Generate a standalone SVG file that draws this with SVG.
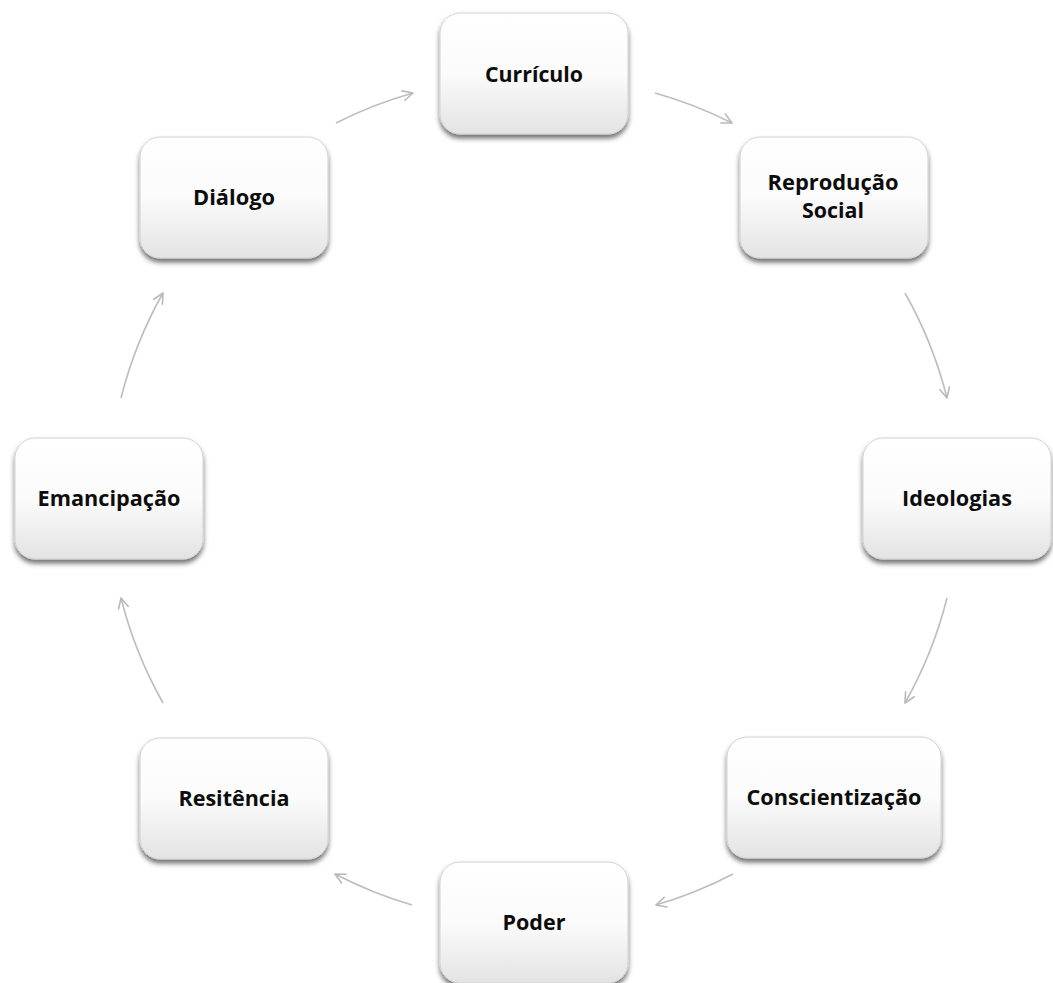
<svg xmlns="http://www.w3.org/2000/svg" width="1053" height="983" viewBox="0 0 1053 983">
  <defs>
    <linearGradient id="boxFill" x1="0" y1="0" x2="0" y2="1">
      <stop offset="0" stop-color="#ffffff"/>
      <stop offset="0.5" stop-color="#fbfbfb"/>
      <stop offset="1" stop-color="#e3e3e3"/>
    </linearGradient>
    <filter id="shadow" x="-10%" y="-10%" width="120%" height="130%">
      <feDropShadow dx="0" dy="4" stdDeviation="2.5" flood-color="#000" flood-opacity="0.55"/>
    </filter>
    <marker id="chevron" viewBox="0 0 12 12" refX="11" refY="6" markerWidth="12" markerHeight="12" markerUnits="userSpaceOnUse" orient="auto">
      <path d="M1,1 L11,6 L1,11" fill="none" stroke="#b9b9b9" stroke-width="1.6" stroke-linecap="round" stroke-linejoin="round"/>
    </marker>
  </defs>
  <style>
    .box { fill: url(#boxFill); stroke: #d2d2d2; stroke-width: 1; filter: url(#shadow); }
    .label { font-family: "Open Sans", "Liberation Sans", sans-serif; font-weight: bold; font-size: 21.5px; fill: #0d0d0d; text-anchor: middle; }
    .link { fill: none; stroke: #bdbdbd; stroke-width: 1.6; marker-end: url(#chevron); }
  </style>

  <rect width="1053" height="983" fill="#ffffff"/>

  <!-- connectors: arcs on one circle, centre (533,498), radius 424 -->
  <g id="connectors">
    <path class="link" d="M336,123 A424,424 0 0 1 413,93"/>
    <path class="link" d="M655,93 A424,424 0 0 1 732,123"/>
    <path class="link" d="M905,293 A424,424 0 0 1 947,398"/>
    <path class="link" d="M947,598 A424,424 0 0 1 905,703"/>
    <path class="link" d="M733,874 A424,424 0 0 1 656,905"/>
    <path class="link" d="M412,905 A424,424 0 0 1 335,874"/>
    <path class="link" d="M163,703 A424,424 0 0 1 121,598"/>
    <path class="link" d="M121,398 A424,424 0 0 1 163,293"/>
  </g>

  <g id="node-curriculo">
    <rect class="box" x="440" y="13" width="188" height="121" rx="20"/>
    <text class="label" x="534" y="82" textLength="98" lengthAdjust="spacingAndGlyphs">Currículo</text>
  </g>

  <g id="node-reproducao">
    <rect class="box" x="740" y="137" width="188" height="121" rx="20"/>
    <text class="label" x="833" y="190" textLength="131" lengthAdjust="spacingAndGlyphs">Reprodução</text>
    <text class="label" x="833" y="218" textLength="62" lengthAdjust="spacingAndGlyphs">Social</text>
  </g>

  <g id="node-ideologias">
    <rect class="box" x="863" y="438" width="188" height="121" rx="20"/>
    <text class="label" x="957" y="506" textLength="110" lengthAdjust="spacingAndGlyphs">Ideologias</text>
  </g>

  <g id="node-conscientizacao">
    <rect class="box" x="727" y="737" width="214" height="121" rx="20"/>
    <text class="label" x="834" y="805" textLength="175" lengthAdjust="spacingAndGlyphs">Conscientização</text>
  </g>

  <g id="node-poder">
    <rect class="box" x="440" y="862" width="188" height="121" rx="20"/>
    <text class="label" x="534" y="930" textLength="63" lengthAdjust="spacingAndGlyphs">Poder</text>
  </g>

  <g id="node-resistencia">
    <rect class="box" x="140" y="738" width="188" height="121" rx="20"/>
    <text class="label" x="234" y="806" textLength="111" lengthAdjust="spacingAndGlyphs">Resitência</text>
  </g>

  <g id="node-emancipacao">
    <rect class="box" x="15" y="438" width="188" height="121" rx="20"/>
    <text class="label" x="109" y="506" textLength="143" lengthAdjust="spacingAndGlyphs">Emancipação</text>
  </g>

  <g id="node-dialogo">
    <rect class="box" x="140" y="137" width="188" height="121" rx="20"/>
    <text class="label" x="234" y="205" textLength="82" lengthAdjust="spacingAndGlyphs">Diálogo</text>
  </g>
</svg>
